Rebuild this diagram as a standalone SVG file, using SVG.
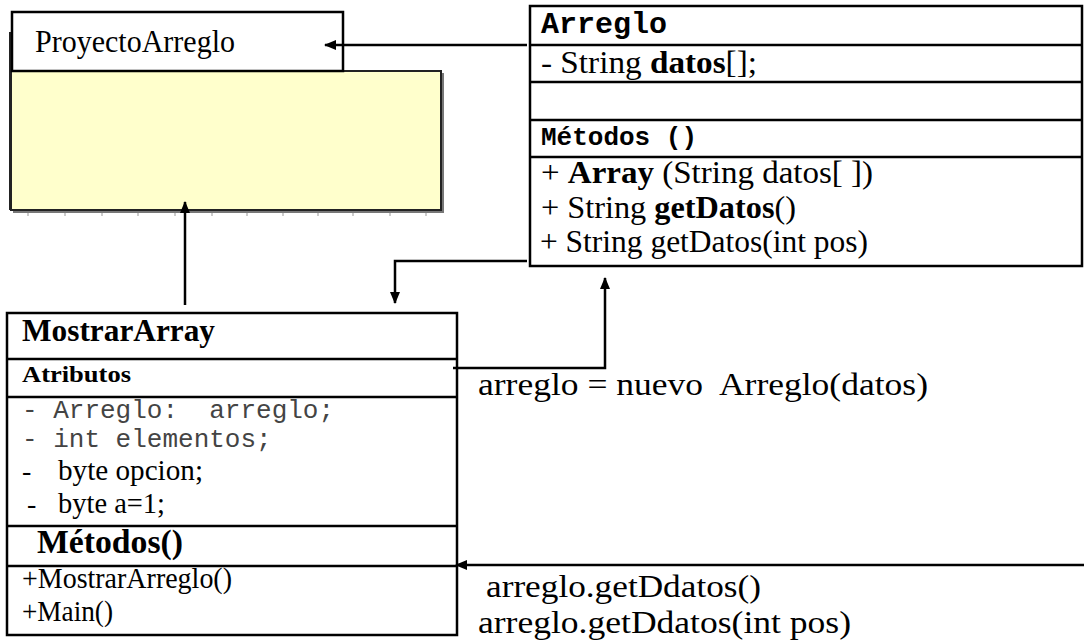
<svg xmlns="http://www.w3.org/2000/svg" width="1084" height="644" viewBox="0 0 1084 644">
<style>
.box{fill:#fff;stroke:#000;stroke-width:2.5}
.ln{stroke:#000;stroke-width:2.5;fill:none}
.con{stroke:#000;stroke-width:2.5;fill:none}
.serif{font-family:"Liberation Serif","Times New Roman",serif;fill:#000}
.mono{font-family:"Liberation Mono","Courier New",monospace;fill:#000}
.monol{font-family:"Liberation Mono","Courier New",monospace;fill:#444}
.b{font-weight:bold}
.tick{stroke:#bbb;stroke-width:1.5}
</style>
<defs>
<marker id="ah" markerWidth="12" markerHeight="10" refX="11" refY="5" orient="auto" markerUnits="userSpaceOnUse">
<path d="M0,0 L12,5 L0,10 Z" fill="#000"/>
</marker>
</defs>

<g id="ProyectoArreglo">
<rect x="13" y="73" width="431" height="140" fill="#777"/>
<rect x="11" y="71" width="430" height="139" fill="#FFFFCC" stroke="#222" stroke-width="2"/>
<line x1="10" y1="32" x2="10" y2="210" stroke="#222" stroke-width="2"/>
<rect class="box" x="12" y="12" width="331" height="59"/>
<text class="serif" x="35" y="52" font-size="31" textLength="200" lengthAdjust="spacingAndGlyphs">ProyectoArreglo</text>
<g class="tick">
<line x1="28" y1="213" x2="28" y2="216"/><line x1="65" y1="213" x2="65" y2="216"/><line x1="102" y1="213" x2="102" y2="216"/><line x1="138" y1="213" x2="138" y2="216"/><line x1="175" y1="213" x2="175" y2="216"/><line x1="212" y1="213" x2="212" y2="216"/><line x1="247" y1="213" x2="247" y2="216"/><line x1="283" y1="213" x2="283" y2="216"/><line x1="318" y1="213" x2="318" y2="216"/><line x1="353" y1="213" x2="353" y2="216"/><line x1="390" y1="213" x2="390" y2="216"/><line x1="426" y1="213" x2="426" y2="216"/>
</g>
</g>

<g id="Arreglo">
<rect class="box" x="530" y="6" width="552" height="260"/>
<line class="ln" x1="530" y1="45" x2="1082" y2="45"/>
<line class="ln" x1="530" y1="82" x2="1082" y2="82"/>
<line class="ln" x1="530" y1="120" x2="1082" y2="120"/>
<line class="ln" x1="530" y1="157" x2="1082" y2="157"/>
<text class="mono b" x="541" y="33" font-size="30">Arreglo</text>
<text class="mono b" x="541" y="145" font-size="26">Métodos ()</text>
<text class="serif" x="541" y="73" font-size="32" textLength="216" lengthAdjust="spacingAndGlyphs">- String <tspan class="b">datos</tspan>[];</text>
<text class="serif" x="541" y="183" font-size="32" textLength="332" lengthAdjust="spacingAndGlyphs">+ <tspan class="b">Array</tspan> (String datos[ ])</text>
<text class="serif" x="541" y="218" font-size="32" textLength="255" lengthAdjust="spacingAndGlyphs">+ String <tspan class="b">getDatos</tspan>()</text>
<text class="serif" x="540" y="252" font-size="32" textLength="328" lengthAdjust="spacingAndGlyphs">+ String getDatos(int pos)</text>
</g>

<g id="MostrarArray">
<rect class="box" x="7" y="313" width="450" height="322"/>
<line class="ln" x1="7" y1="359" x2="457" y2="359"/>
<line class="ln" x1="7" y1="397" x2="457" y2="397"/>
<line class="ln" x1="7" y1="526" x2="457" y2="526"/>
<line class="ln" x1="7" y1="566" x2="457" y2="566"/>
<text class="serif b" x="22" y="341" font-size="31" textLength="193" lengthAdjust="spacingAndGlyphs">MostrarArray</text>
<text class="serif b" x="22" y="382" font-size="24" textLength="109" lengthAdjust="spacingAndGlyphs">Atributos</text>
<text class="monol" x="22" y="418" font-size="26" xml:space="preserve">- Arreglo:  arreglo;</text>
<text class="monol" x="22" y="447" font-size="26">- int elementos;</text>
<text class="serif" x="22" y="480" font-size="28">-</text>
<text class="serif" x="58" y="480" font-size="29" textLength="145" lengthAdjust="spacingAndGlyphs">byte opcion;</text>
<text class="serif" x="27" y="513" font-size="28">-</text>
<text class="serif" x="58" y="513" font-size="29" textLength="107" lengthAdjust="spacingAndGlyphs">byte a=1;</text>
<text class="serif b" x="37" y="553" font-size="33" textLength="146" lengthAdjust="spacingAndGlyphs">Métodos()</text>
<text class="serif" x="22" y="588" font-size="29" textLength="210" lengthAdjust="spacingAndGlyphs">+MostrarArreglo()</text>
<text class="serif" x="22" y="621" font-size="29" textLength="91" lengthAdjust="spacingAndGlyphs">+Main()</text>
</g>

<g id="connectors">
<line class="con" x1="527" y1="45" x2="325" y2="45" marker-end="url(#ah)"/>
<line class="con" x1="185" y1="305" x2="185" y2="202" marker-end="url(#ah)"/>
<polyline class="con" points="527,261 395,261 395,303" marker-end="url(#ah)"/>
<polyline class="con" points="453,368 605,368 605,278" marker-end="url(#ah)"/>
<line class="con" x1="1084" y1="565" x2="456" y2="565" marker-end="url(#ah)"/>
</g>

<g id="labels">
<text class="serif" x="478" y="395" font-size="31" textLength="450" lengthAdjust="spacingAndGlyphs" xml:space="preserve">arreglo = nuevo  Arreglo(datos)</text>
<text class="serif" x="486" y="597" font-size="31" textLength="275" lengthAdjust="spacingAndGlyphs">arreglo.getDdatos()</text>
<text class="serif" x="478" y="633" font-size="31" textLength="373" lengthAdjust="spacingAndGlyphs">arreglo.getDdatos(int pos)</text>
</g>
</svg>
